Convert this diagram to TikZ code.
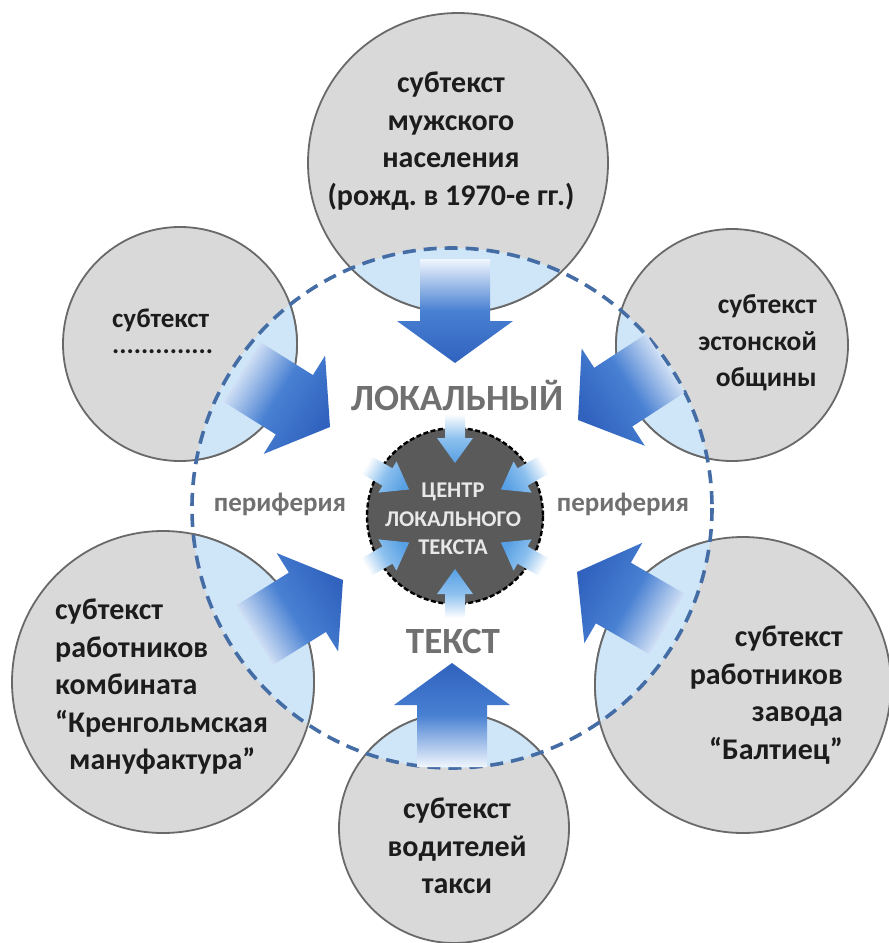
\documentclass[tikz,border=0pt]{standalone}
\usepackage{fontspec}
\setmainfont{Carlito}
\definecolor{circfill}{RGB}{217,217,217}
\definecolor{circline}{RGB}{105,105,105}
\definecolor{lens}{RGB}{207,230,248}
\definecolor{dashblue}{RGB}{68,108,165}
\definecolor{arrblue}{RGB}{48,98,190}
\definecolor{arrmid}{RGB}{72,128,210}
\definecolor{arrpale}{RGB}{240,246,253}
\definecolor{gearfill}{RGB}{90,90,90}
\definecolor{smallblue}{RGB}{88,160,228}
\definecolor{smallmid}{RGB}{140,192,238}
\definecolor{graytext}{RGB}{112,112,112}
\definecolor{txt}{RGB}{28,28,28}
\definecolor{geartext}{RGB}{232,232,232}
\newcommand\bigarr[3]{%
  \pgfmathsetmacro{\shang}{#3+90}%
  \begin{scope}[shift={(#1,#2)},rotate=#3]
    \shade[bigarrow, shading angle=\shang] (0,0) -- (-42,-58) -- (-42,-35) -- (-104,-35) -- (-104,35) -- (-42,35) -- (-42,58) -- cycle;
  \end{scope}}
\begin{document}
\begin{tikzpicture}[x=1pt,y=-1pt,
  subcirc/.style={fill=circfill, draw=circline, line width=1.8pt},
  subline/.style={draw=circline, line width=1.8pt},
  bigarrow/.style={left color=arrpale, right color=arrblue, middle color=arrmid},
  smallarrow/.style={left color=smallblue, right color=white, middle color=smallmid},
  subtext/.style={font=\bfseries\fontsize{30}{37.5}\selectfont, text=txt, inner sep=0pt},
  graylabel/.style={font=\bfseries, text=graytext, inner sep=0pt}]
\useasboundingbox (0,0) rectangle (889,943);
\fill[white] (0,0) rectangle (889,943);
% centres
\coordinate (B) at (452,508);
\coordinate (G) at (455,516);
\coordinate (cT) at (458,163);
\coordinate (cUL) at (180,344);
\coordinate (cUR) at (732,345);
\coordinate (cLL) at (163,682);
\coordinate (cLR) at (743,685);
\coordinate (cBo) at (454,828);
% outer circles
\path[subcirc] (cT) circle[radius=150];
\path[subcirc] (cUL) circle[radius=117];
\path[subcirc] (cUR) circle[radius=116];
\path[subcirc] (cLL) circle[radius=151];
\path[subcirc] (cLR) circle[radius=148];
\path[subcirc] (cBo) circle[radius=115];
% lenses
\begin{scope}
  \clip (B) circle[radius=260];
  \fill[lens] (cT) circle[radius=150];
  \fill[lens] (cUL) circle[radius=117];
  \fill[lens] (cUR) circle[radius=116];
  \fill[lens] (cLL) circle[radius=151];
  \fill[lens] (cLR) circle[radius=148];
  \fill[lens] (cBo) circle[radius=115];
  \path[subline] (cT) circle[radius=150];
  \path[subline] (cUL) circle[radius=117];
  \path[subline] (cUR) circle[radius=116];
  \path[subline] (cLL) circle[radius=151];
  \path[subline] (cLR) circle[radius=148];
  \path[subline] (cBo) circle[radius=115];
\end{scope}
% dashed boundary
\draw[dashblue, line width=3.6pt, dash pattern=on 13pt off 8pt] (B) circle[radius=260];
% big arrows
\bigarr{455}{363}{-90}
\bigarr{452}{663}{90}
\bigarr{330}{427}{-32}
\bigarr{578}{420}{-147}
\bigarr{343}{580}{32}
\bigarr{577}{572}{150}
% centre
\fill[gearfill] (G) circle[radius=88];
\draw[black, line width=2.4pt, dash pattern=on 5pt off 2.5pt] (G) circle[radius=88];
\foreach \a in {30,90,...,330}{
  \pgfmathsetmacro{\sang}{\a+90}
  \begin{scope}[shift={(G)},rotate=\a]
    \shade[smallarrow, shading angle=\sang] (53,0) -- (78,-18) -- (78,-10) -- (102,-10) -- (102,10) -- (78,10) -- (78,18) -- cycle;
  \end{scope}}
% texts
\node[subtext, align=center] (tT) at (451,141) {субтекст\\мужского\\населения\\(рожд.\ в 1970-е гг.)};
\node[subtext, font=\bfseries\fontsize{27}{35}\selectfont, anchor=base west] (tUL) at (112,327) {субтекст};
\node[subtext, font=\bfseries\fontsize{27}{35}\selectfont, anchor=base west] (tULd) at (112,353) {..............};
\node[subtext, font=\bfseries\fontsize{27.5}{36.5}\selectfont, align=right, anchor=east] (tUR) at (817,343) {субтекст\\эстонской\\общины};
\node[subtext, align=left, anchor=west] (tLL) at (55,687) {субтекст\\работников\\комбината\\“Кренгольмская\\\hspace*{14pt}мануфактура”};
\node[subtext, align=right, anchor=east] (tLR) at (843,695) {субтекст\\работников\\завода\\“Балтиец”};
\node[subtext, align=center] (tBo) at (457,846) {субтекст\\водителей\\такси};
\node[graylabel, font=\bfseries\fontsize{37}{40}\selectfont, anchor=base] (lok) at (457,410) {ЛОКАЛЬНЫЙ};
\node[graylabel, font=\bfseries\fontsize{37}{40}\selectfont, anchor=base] (tek) at (453,653) {ТЕКСТ};
\node[graylabel, font=\bfseries\fontsize{27}{30}\selectfont, anchor=base] (perL) at (280,511) {периферия};
\node[graylabel, font=\bfseries\fontsize{27}{30}\selectfont, anchor=base] (perR) at (623,511) {периферия};
\node[inner sep=0pt, text=geartext, font=\bfseries\fontsize{22.5}{28.5}\selectfont, align=center] (cen) at (453,519) {ЦЕНТР\\ЛОКАЛЬНОГО\\ТЕКСТА};
\end{tikzpicture}
\end{document}
